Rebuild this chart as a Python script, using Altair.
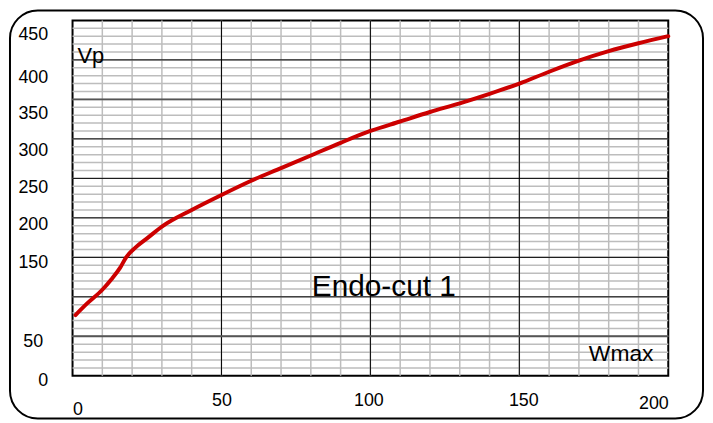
import altair as alt
import pandas as pd

# Curve
wmax = [1, 5, 10, 13, 16, 18, 21, 25, 30, 40, 50, 60, 70, 80, 90, 100, 110, 120, 130, 140, 150, 160, 170, 180, 190, 200]
vp = [77, 92, 109, 122, 137, 150, 162, 174, 189, 210, 229, 247, 263, 279, 295, 310, 322, 334, 345, 357, 370, 385, 399, 411, 421, 430]

# Axis tick labels
x_labels = [0, 50, 100, 150, 200]
y_labels = [0, 50, 150, 200, 250, 300, 350, 400, 450]

# Grid lines
x_minor = list(range(10, 200, 10))
x_major = [50, 100, 150]
y_minor = list(range(10, 450, 10))
y_major = [100, 150, 200, 250, 300, 400]
y_major_gray = [50, 350]

FONT = "Liberation Sans"
W, H = 600, 358

xs = alt.Scale(domain=[0, 200], nice=False, zero=False)
ys = alt.Scale(domain=[0, 450], nice=False, zero=False)

curve = pd.DataFrame({"Wmax": wmax, "Vp": vp})

x_axis = alt.Axis(
    values=x_labels, title=None, grid=False, domain=False, ticks=False,
    labelFont=FONT, labelFontSize=18, labelColor="black",
    labelPadding={"condition": [{"test": "datum.value === 0", "value": 25},
                                {"test": "datum.value === 200", "value": 19}], "value": 16},
    labelOffset={"condition": [{"test": "datum.value === 150", "value": 4},
                               {"test": "datum.value === 100", "value": -2}], "value": 0},
)
y_axis = alt.Axis(
    values=y_labels, title=None, grid=False, domain=False, ticks=False,
    labelFont=FONT, labelFontSize=18, labelColor="black",
    labelPadding={"condition": [{"test": "datum.value === 50", "value": 30}], "value": 25},
    labelOffset={"condition": [
        {"test": "datum.value === 450", "value": 14},
        {"test": "datum.value === 400", "value": 18},
        {"test": "datum.value === 350", "value": 14},
        {"test": "datum.value === 300", "value": 12},
        {"test": "datum.value === 250", "value": 9},
        {"test": "datum.value === 200", "value": 7},
    ], "value": 5},
)

def vrules(vals, color, width):
    return alt.Chart(pd.DataFrame({"v": vals})).mark_rule(color=color, strokeWidth=width).encode(
        x=alt.X("v:Q", scale=xs, axis=x_axis))

def hrules(vals, color, width):
    return alt.Chart(pd.DataFrame({"v": vals})).mark_rule(color=color, strokeWidth=width).encode(
        y=alt.Y("v:Q", scale=ys, axis=y_axis))

line = alt.Chart(curve).mark_line(color="#cc0000", strokeWidth=4, strokeCap="round",
                                  interpolate="monotone").encode(
    x=alt.X("Wmax:Q", scale=xs, axis=x_axis),
    y=alt.Y("Vp:Q", scale=ys, axis=y_axis),
)

one = pd.DataFrame({"k": [0]})

def label(text, size, x, y):
    return alt.Chart(one).mark_text(text=text, font=FONT, fontSize=size, color="black",
                                    align="left", baseline="alphabetic").encode(
        x=alt.value(x), y=alt.value(y))

frame = alt.Chart(one).mark_rect(fillOpacity=0, stroke="black", strokeWidth=2, cornerRadius=28).encode(
    x=alt.value(-63), x2=alt.value(635), y=alt.value(-10), y2=alt.value(401))

chart = alt.layer(
    vrules(x_minor, "#bdbdbd", 1.5),
    hrules(y_minor, "#bdbdbd", 1.5),
    vrules(x_major, "black", 1),
    hrules(y_major, "black", 1),
    hrules(y_major_gray, "#555555", 2),
    line,
    label("Vp", 22, 5, 43),
    label("Endo-cut 1", 30, 241, 278),
    label("Wmax", 23, 520, 343),
    frame,
).properties(
    width=W, height=H,
    autosize=alt.AutoSizeParams(type="none"),
    padding={"left": 65, "top": 11, "right": 37, "bottom": 44},
).configure_view(stroke="black", strokeWidth=2)

chart.save("out.html", embed_options={"renderer": "svg", "actions": False})
